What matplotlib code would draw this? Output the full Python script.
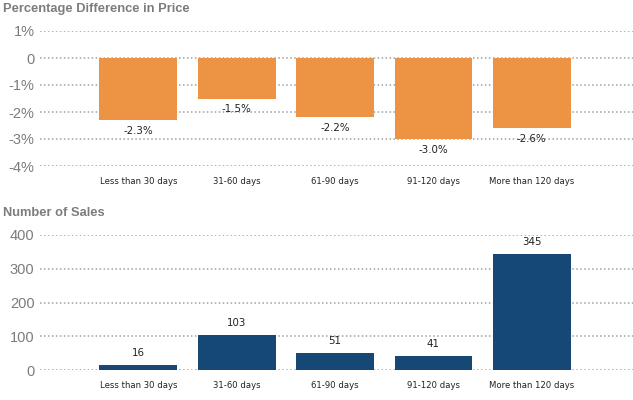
import matplotlib
matplotlib.use("Agg")
import matplotlib.pyplot as plt

categories = ["Less than 30 days", "31-60 days", "61-90 days", "91-120 days", "More than 120 days"]
pct_diff = [-2.3, -1.5, -2.2, -3.0, -2.6]
sales = [16, 103, 51, 41, 345]
pct_ticks = [1, 0, -1, -2, -3, -4]
pct_tick_labels = ["1%", "0", "-1%", "-2%", "-3%", "-4%"]
sales_ticks = [0, 100, 200, 300, 400]
sales_tick_labels = ["0", "100", "200", "300", "400"]

orange = "#EC9444"
blue = "#164875"
grey_text = "#7c7c7c"
grid_col = "#a0a0a0"

W, H = 633, 400
fig = plt.figure(figsize=(W / 100, H / 100), dpi=100)

def px_axes(left, top, right, bottom):
    return fig.add_axes([left / W, 1 - bottom / H, (right - left) / W, (bottom - top) / H])

ax1 = px_axes(40, 31, 633, 166)
ax2 = px_axes(40, 235, 633, 370)

xs = list(range(1, len(categories) + 1))

def style(ax, ticks, labels, lo, hi):
    ax.set_xlim(0, 6.03)
    ax.set_ylim(lo, hi)
    ax.set_yticks(ticks)
    ax.set_yticklabels(labels, fontsize=10.5, color=grey_text, family="Liberation Sans")
    ax.set_xticks(xs)
    ax.set_xticklabels(categories, fontsize=6.1, color="#222222")
    ax.tick_params(axis="both", length=0)
    ax.tick_params(axis="y", pad=4)
    ax.tick_params(axis="x", pad=8)
    for s in ax.spines.values():
        s.set_visible(False)
    ax.set_axisbelow(True)
    ax.yaxis.grid(True, color=grid_col, linestyle=(0, (1, 1.6)), linewidth=1.1)
    ax.xaxis.grid(False)

# Top chart
b1 = ax1.bar(xs, pct_diff, width=0.79, color=orange)
style(ax1, pct_ticks, pct_tick_labels, -4, 1)
ax1.bar_label(b1, labels=[f"{v:.1f}%" for v in pct_diff], padding=4, fontsize=7.4, color="#222222")
fig.text(3 / W, 1 - 9 / H, "Percentage Difference in Price", fontsize=9.3, fontweight="bold",
         color=grey_text, va="center", ha="left", family="Liberation Sans")

# Bottom chart
b2 = ax2.bar(xs, sales, width=0.79, color=blue)
style(ax2, sales_ticks, sales_tick_labels, 0, 400)
ax2.bar_label(b2, labels=[str(v) for v in sales], padding=5, fontsize=7.4, color="#222222")
fig.text(3 / W, 1 - 213 / H, "Number of Sales", fontsize=9.3, fontweight="bold",
         color=grey_text, va="center", ha="left", family="Liberation Sans")

fig.savefig("out.png", dpi=100, facecolor="white")
